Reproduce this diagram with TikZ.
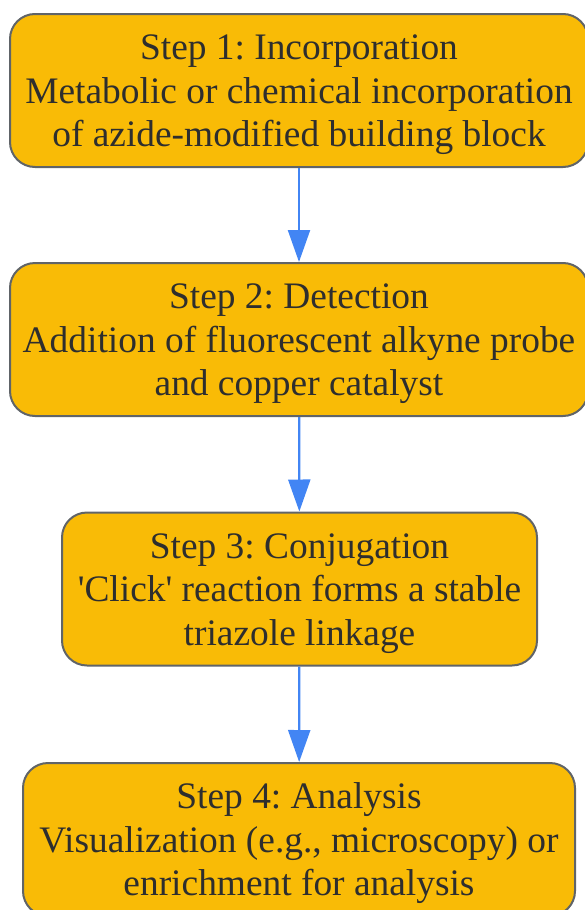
\documentclass[tikz,border=0pt]{standalone}
\usepackage{fontspec}
\defaultfontfeatures[\rmfamily]{}
\setmainfont{Liberation Serif}
\usepackage{tikz}
\usetikzlibrary{arrows.meta,positioning}
\definecolor{boxfill}{HTML}{F9BB06}
\definecolor{boxline}{HTML}{606468}
\definecolor{flowblue}{HTML}{4285F4}
\tikzstyle{stepbox}=[rectangle, rounded corners=25pt, draw=boxline, line width=2pt, fill=boxfill, text=black!82, align=center, minimum height=153pt, inner sep=0pt, font=\fontsize{37.4}{43.5}\selectfont\frenchspacing, text height=122pt, text depth=10pt]
\tikzstyle{flow}=[color=flowblue, line width=2.2pt, -{Triangle[length=32pt,width=22pt]}]

\begin{document}
\begin{tikzpicture}[x=1pt, y=-1pt]
      \useasboundingbox (0,0) rectangle (585,910);
      \node[stepbox, minimum width=578pt] at (299, 90.5) (s1) {Step 1: Incorporation\\Metabolic or chemical incorporation\\of azide-modified building block};
			\node[stepbox, minimum width=578pt] at (299, 339.5) (s2) {Step 2: Detection\\Addition of fluorescent alkyne probe\\and copper catalyst};
			\node[stepbox, minimum width=475pt] at (299.5, 589) (s3) {Step 3: Conjugation\\'Click' reaction forms a stable\\triazole linkage};
			\node[stepbox, minimum width=552pt] at (299, 839.5) (s4) {Step 4: Analysis\\Visualization (e.g., microscopy) or\\enrichment for analysis};

      \draw[flow] (s1) edge node {} (s2);
			\draw[flow] (s2) edge node {} (s3);
			\draw[flow] (s3) edge node {} (s4);
  	\end{tikzpicture}
\end{document}
